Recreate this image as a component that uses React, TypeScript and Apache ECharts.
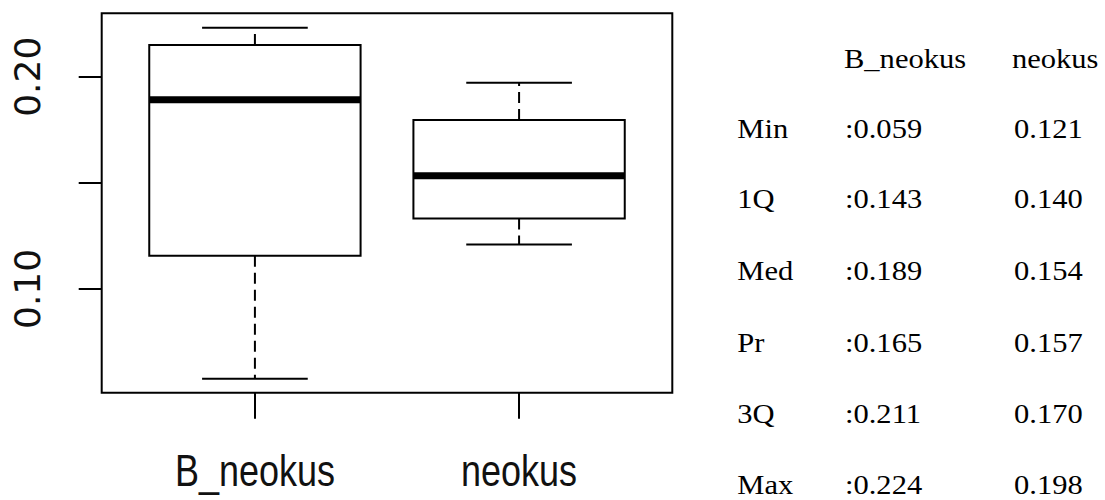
import React, { useEffect, useRef } from "react";
import * as echarts from "echarts";

const categories = ["B_neokus", "neokus"];
const positions = [1, 2];
// [position, lower whisker, Q1, median, Q3, upper whisker]
const boxB = [1, 0.0577, 0.1156, 0.1892, 0.215, 0.2231];
const boxNeokus = [2, 0.1209, 0.1332, 0.1533, 0.1796, 0.1972];
const yTicks = [0.1, 0.15, 0.2];
const yLabels = [0.1, 0.2];

const statLabels = ["Min", "1Q", "Med", "Pr", "3Q", "Max"];
const statB = [0.059, 0.143, 0.189, 0.165, 0.211, 0.224];
const statNeokus = [0.121, 0.14, 0.154, 0.157, 0.17, 0.198];

const Y_MIN = 0.0511;
const Y_MAX = 0.2299;

export default function App() {
  const ref = useRef<HTMLDivElement>(null);
  useEffect(() => {
    if (!ref.current) return;
    const chart = echarts.init(ref.current, null, { renderer: "svg" });

    const serif = "'Liberation Serif', 'Times New Roman', serif";
    const tFont = 27.5;
    const sx = 1.11;
    const rowY = [128.8, 198.8, 270.5, 342.2, 413.8, 484.5];
    const headerY = 58.8;
    const colLabel = 737.3;
    const col1 = 845;
    const col2 = 1014;
    const txt = (text: string, x: number, y: number) => ({
      type: "text",
      x,
      y,
      scaleX: sx,
      scaleY: 1,
      style: {
        text,
        fill: "#000",
        font: `${tFont}px ${serif}`,
        textAlign: "left",
        textVerticalAlign: "middle",
        verticalAlign: "middle",
      },
    });
    const graphics: any[] = [
      txt(categories[0], col1 - 1, headerY),
      txt(categories[1], col2 - 2, headerY),
    ];
    statLabels.forEach((l, i) => {
      graphics.push(txt(l, colLabel, rowY[i]));
      graphics.push(txt(":" + statB[i].toFixed(3), col1, rowY[i]));
      graphics.push(txt(statNeokus[i].toFixed(3), col2, rowY[i]));
    });

    chart.setOption({
      animation: false,
      backgroundColor: "#fff",
      grid: {
        left: 101.7,
        top: 13.3,
        width: 570.6,
        height: 379.4,
        show: true,
        borderColor: "#000",
        borderWidth: 2,
        backgroundColor: "transparent",
      },
      xAxis: {
        type: "value",
        min: 0.42,
        max: 2.58,
        axisLine: { show: false },
        splitLine: { show: false },
        axisTick: {
          show: true,
          length: 26,
          customValues: positions,
          lineStyle: { color: "#000", width: 2 },
        },
        axisLabel: { show: false },
      },
      yAxis: {
        type: "value",
        min: Y_MIN,
        max: Y_MAX,
        axisLine: { show: false },
        splitLine: { show: false },
        axisTick: {
          show: true,
          length: 23,
          customValues: yTicks,
          lineStyle: { color: "#000", width: 2 },
        },
        axisLabel: {
          customValues: yLabels,
          formatter: (v: number) => v.toFixed(2),
          rotate: 90,
          margin: 56,
          fontFamily: "'DejaVu Sans', sans-serif",
          fontSize: 36,
          color: "#111",
        },
      },
      series: [
        {
          type: "custom",
          clip: false,
          encode: { x: 0, y: [1, 2, 3, 4, 5] },
          data: [boxB, boxNeokus],
          renderItem: (params: any, api: any) => {
            const x = api.value(0);
            const lo = api.value(1);
            const q1 = api.value(2);
            const med = api.value(3);
            const q3 = api.value(4);
            const hi = api.value(5);
            const pL = api.coord([x - 0.4, q3]);
            const pR = api.coord([x + 0.4, q1]);
            const cMed = api.coord([x, med]);
            const cLo = api.coord([x, lo]);
            const cHi = api.coord([x, hi]);
            const cQ1 = api.coord([x, q1]);
            const cQ3 = api.coord([x, q3]);
            const sL = api.coord([x - 0.2, lo])[0];
            const sR = api.coord([x + 0.2, lo])[0];
            const black = "#000";
            return {
              type: "group",
              children: [
                {
                  type: "line",
                  shape: { x1: cQ3[0], y1: cQ3[1], x2: cHi[0], y2: cHi[1] },
                  style: { stroke: black, lineWidth: 2, lineDash: [11, 6] },
                },
                {
                  type: "line",
                  shape: { x1: cQ1[0], y1: cQ1[1], x2: cLo[0], y2: cLo[1] },
                  style: { stroke: black, lineWidth: 2, lineDash: [11, 6] },
                },
                {
                  type: "line",
                  shape: { x1: sL, y1: cHi[1], x2: sR, y2: cHi[1] },
                  style: { stroke: black, lineWidth: 2 },
                },
                {
                  type: "line",
                  shape: { x1: sL, y1: cLo[1], x2: sR, y2: cLo[1] },
                  style: { stroke: black, lineWidth: 2 },
                },
                {
                  type: "rect",
                  shape: {
                    x: pL[0],
                    y: pL[1],
                    width: pR[0] - pL[0],
                    height: pR[1] - pL[1],
                  },
                  style: { fill: "#fff", stroke: black, lineWidth: 2 },
                },
                {
                  type: "line",
                  shape: { x1: pL[0], y1: cMed[1], x2: pR[0], y2: cMed[1] },
                  style: { stroke: black, lineWidth: 7 },
                },
              ],
            };
          },
        },
      ],
      graphic: graphics,
    });

    // Category labels below the axis, placed through the axis scale
    positions.forEach((p, i) => {
      const pt = chart.convertToPixel({ gridIndex: 0 }, [p, Y_MIN]) as number[];
      graphics.push({
        type: "text",
        x: pt[0],
        y: pt[1] + 78,
        scaleX: 0.8,
        scaleY: 1,
        style: {
          text: categories[i],
          fill: "#111",
          font: "45px 'Liberation Sans', Arial, sans-serif",
          textAlign: "center",
          textVerticalAlign: "middle",
          verticalAlign: "middle",
        },
      });
    });
    chart.setOption({ graphic: graphics }, { replaceMerge: ["graphic"] });

    return () => chart.dispose();
  }, []);
  return (
    <div
      ref={ref}
      style={{ position: "absolute", left: 0, top: 0, width: 1105, height: 500, background: "#fff" }}
    />
  );
}
